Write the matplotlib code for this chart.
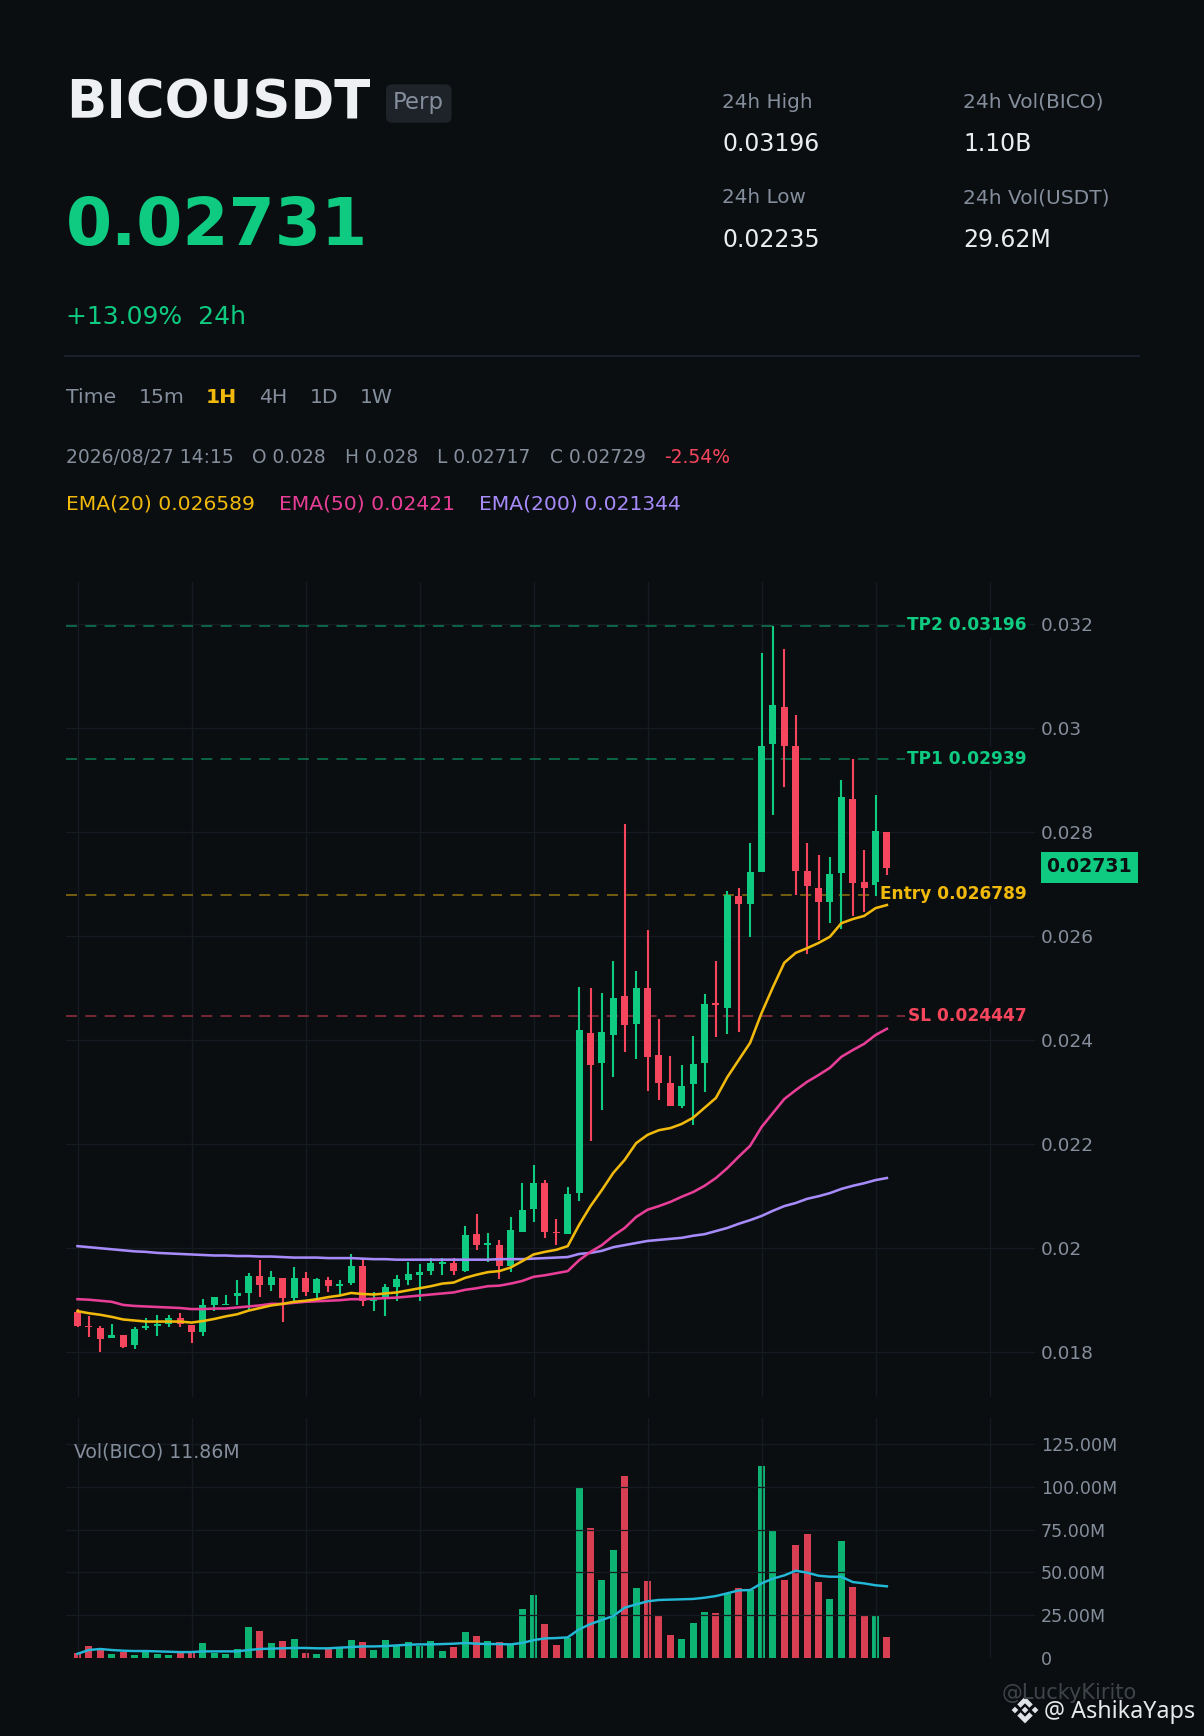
import numpy as np
import matplotlib
matplotlib.use("Agg")
import matplotlib.pyplot as plt
from matplotlib.patches import FancyBboxPatch, Polygon, Rectangle
from matplotlib.transforms import blended_transform_factory

# prices are stored in units of 0.00001
highs = [1883, 1868, 1849, 1854, 1833, 1847, 1864, 1870, 1870, 1874, 1851, 1901, 1906, 1910, 1937, 1951, 1976, 1956,
         1941, 1962, 1954, 1941, 1943, 1937, 1987, 1981, 1914, 1931, 1947, 1972, 1968, 1981, 1980, 1980, 2041, 2064,
         2028, 2014, 2060, 2124, 2160, 2130, 2056, 2117, 2501, 2499, 2490, 2551, 2815, 2532, 2611, 2440, 2369, 2351,
         2407, 2488, 2551, 2686, 2692, 2778, 3144, 3196, 3151, 3024, 2778, 2755, 2751, 2899, 2940, 2765, 2871, 2800]
lows = [1847, 1828, 1799, 1826, 1808, 1806, 1841, 1831, 1847, 1847, 1816, 1831, 1878, 1889, 1889, 1881, 1906, 1916,
        1858, 1897, 1908, 1903, 1914, 1908, 1928, 1887, 1878, 1868, 1897, 1928, 1897, 1947, 1947, 1947, 1953, 1995,
        1972, 1939, 1953, 2031, 2049, 2018, 2006, 2026, 2090, 2205, 2265, 2328, 2376, 2363, 2301, 2284, 2273, 2269,
        2236, 2299, 2405, 2411, 2415, 2598, 2722, 2832, 2886, 2678, 2565, 2592, 2624, 2613, 2638, 2646, 2676, 2717]
body_tops = [1876, 1848, 1845, 1833, 1833, 1843, 1849, 1853, 1864, 1864, 1851, 1889, 1906, 1890, 1912, 1945, 1945, 1943,
             1941, 1941, 1941, 1939, 1937, 1931, 1964, 1964, 1899, 1924, 1939, 1949, 1954, 1970, 1972, 1970, 2024, 2026,
             2010, 2006, 2035, 2072, 2124, 2124, 2031, 2103, 2419, 2413, 2415, 2480, 2484, 2499, 2499, 2371, 2317, 2311,
             2353, 2469, 2469, 2678, 2676, 2722, 2965, 3044, 3040, 2965, 2724, 2692, 2719, 2867, 2863, 2703, 2801, 2800]
body_bots = [1849, 1847, 1824, 1826, 1810, 1812, 1845, 1849, 1853, 1853, 1837, 1837, 1889, 1889, 1908, 1912, 1928, 1928,
             1904, 1903, 1914, 1912, 1926, 1926, 1933, 1897, 1897, 1904, 1924, 1937, 1947, 1956, 1968, 1956, 1956, 2005,
             2005, 1964, 1964, 2031, 2074, 2031, 2028, 2026, 2105, 2351, 2355, 2409, 2428, 2430, 2367, 2317, 2273, 2273,
             2315, 2355, 2467, 2461, 2661, 2661, 2722, 2969, 2965, 2724, 2696, 2665, 2665, 2721, 2701, 2692, 2698, 2730]
is_up = [0, 0, 0, 1, 0, 1, 1, 1, 1, 0, 0, 1, 1, 1, 1, 1, 0, 1, 0, 1, 0, 1, 0, 1, 1, 0, 1, 1, 1, 1, 1, 1, 1, 0, 1, 0,
         1, 0, 1, 1, 1, 0, 0, 1, 1, 0, 1, 1, 0, 1, 0, 0, 0, 1, 1, 1, 0, 1, 0, 1, 1, 1, 0, 0, 0, 0, 1, 1, 0, 0, 1, 0]

ema20 = [1878, 1874, 1871, 1867, 1862, 1860, 1858, 1858, 1858, 1858, 1856, 1859, 1863, 1868, 1872, 1879, 1884, 1889,
         1892, 1896, 1898, 1901, 1905, 1908, 1913, 1911, 1910, 1912, 1914, 1918, 1922, 1926, 1931, 1933, 1942, 1948,
         1953, 1955, 1962, 1974, 1987, 1992, 1996, 2003, 2044, 2080, 2111, 2144, 2169, 2201, 2217, 2226, 2230, 2238,
         2250, 2269, 2288, 2328, 2361, 2394, 2451, 2501, 2548, 2567, 2576, 2586, 2598, 2624, 2632, 2638, 2653, 2659]
ema50 = [1901, 1900, 1898, 1896, 1890, 1888, 1887, 1886, 1885, 1884, 1882, 1882, 1883, 1883, 1885, 1887, 1889, 1892,
         1892, 1894, 1896, 1897, 1898, 1899, 1901, 1901, 1902, 1903, 1904, 1906, 1908, 1910, 1912, 1914, 1919, 1922,
         1926, 1927, 1931, 1936, 1944, 1947, 1951, 1955, 1976, 1992, 2005, 2023, 2038, 2059, 2073, 2080, 2088, 2098,
         2107, 2119, 2134, 2153, 2175, 2196, 2232, 2259, 2286, 2303, 2319, 2332, 2346, 2367, 2380, 2392, 2409, 2421]
ema200 = [2003, 2001, 1999, 1997, 1995, 1993, 1992, 1990, 1989, 1988, 1987, 1986, 1985, 1985, 1984, 1984, 1983, 1983,
          1982, 1981, 1981, 1981, 1980, 1980, 1980, 1979, 1978, 1978, 1977, 1977, 1977, 1977, 1977, 1977, 1977, 1977,
          1977, 1978, 1978, 1978, 1979, 1980, 1981, 1982, 1988, 1990, 1994, 2001, 2005, 2009, 2013, 2015, 2017, 2019,
          2023, 2026, 2032, 2038, 2046, 2053, 2061, 2071, 2080, 2086, 2094, 2099, 2105, 2113, 2119, 2124, 2130, 2134]

volume = [2.7, 6.8, 5.1, 2.1, 3.5, 1.6, 3.9, 2.1, 1.6, 2.7, 2.7, 8.6, 2.7, 2.1, 5.1, 18.0, 15.6, 8.6,
          9.8, 10.9, 2.7, 2.1, 5.1, 5.7, 10.3, 9.2, 4.5, 10.3, 7.4, 9.2, 6.8, 9.8, 3.9, 6.2, 15.0, 12.7,
          9.8, 9.2, 8.0, 28.5, 36.7, 19.7, 7.4, 11.7, 99.4, 75.9, 45.5, 63.0, 106.4, 40.8, 44.9, 24.4, 13.3, 10.9,
          20.3, 26.7, 26.2, 37.3, 40.8, 39.6, 112.2, 74.8, 45.5, 66.0, 72.4, 44.3, 34.4, 68.3, 41.4, 25.0, 24.4, 11.86]
vol_ma = [2.3, 4.5, 5.1, 4.5, 4.1, 3.9, 3.9, 3.7, 3.5, 3.3, 3.3, 3.7, 3.7, 3.7, 3.7, 4.5, 5.1, 5.3,
          5.5, 5.7, 5.7, 5.5, 5.5, 5.9, 6.2, 6.6, 6.6, 6.8, 7.2, 7.6, 7.8, 7.8, 8.0, 8.2, 8.6, 8.2,
          8.0, 8.0, 7.8, 8.6, 10.3, 11.3, 11.5, 11.9, 16.6, 19.7, 22.1, 24.4, 29.3, 31.2, 33.0, 33.8, 34.0, 34.2,
          34.4, 35.1, 36.1, 37.7, 39.4, 39.6, 43.5, 46.3, 48.2, 50.9, 49.8, 48.0, 47.4, 47.4, 44.3, 43.5, 42.4, 41.8]

price_ticks = [0.018, 0.02, 0.022, 0.024, 0.026, 0.028, 0.03, 0.032]
vol_ticks = [0, 25, 50, 75, 100, 125]
vol_tick_labels = ["0", "25.00M", "50.00M", "75.00M", "100.00M", "125.00M"]
levels = [("TP2", 0.03196), ("TP1", 0.02939), ("Entry", 0.026789), ("SL", 0.024447)]
last_price = 0.02731

BG = "#0b0e11"
GRID = "#161b22"
GREY = "#848e9c"
WHITE = "#eaecef"
GREEN = "#0ecb81"
RED = "#f6465d"
YELLOW = "#f0b90b"
PINK = "#e83e97"
PURPLE = "#a78bfa"
CYAN = "#22b8d6"
level_colors = {"TP2": GREEN, "TP1": GREEN, "Entry": YELLOW, "SL": RED}

W, H = 1204, 1736
fig = plt.figure(figsize=(W / 100, H / 100), dpi=100, facecolor=BG)


def T(x, y, s, size, color=GREY, **kw):
    return fig.text(x / W, 1 - y / H, s, fontsize=size, color=color, va="baseline", **kw)


# header
T(66, 118.3, "BICOUSDT", 38, "#eef0f3", fontweight="bold")
fig.patches.append(FancyBboxPatch((386 / W, 1 - 122.7 / H), 65.6 / W, 38.4 / H, transform=fig.transFigure,
                                  boxstyle="round,pad=0,rounding_size=0.005", mutation_aspect=W / H,
                                  fc="#1e2329", ec="none"))
T(393, 109.3, "Perp", 16.4)
T(66, 245, "0.02731", 47.8, GREEN, fontweight="bold")
T(66, 324.3, "+13.09%  24h", 18, GREEN)

T(722, 107.7, "24h High", 14.4)
T(722, 151, "0.03196", 17, WHITE)
T(722, 203, "24h Low", 14.4)
T(722, 246.7, "0.02235", 17, WHITE)
T(963, 107.7, "24h Vol(BICO)", 14.5)
T(963, 151, "1.10B", 17, WHITE)
T(963, 203, "24h Vol(USDT)", 14.5)
T(963, 246.7, "29.62M", 17, WHITE)

fig.add_artist(plt.Line2D([65 / W, 1139 / W], [1 - 355.7 / H] * 2, color="#1e2633", lw=1.2))

T(66, 403.3, "Time", 14.7)
T(138.5, 403.3, "15m", 14.7)
T(206, 403.3, "1H", 14.7, YELLOW, fontweight="bold")
T(259, 403.3, "4H", 14.7)
T(310, 403.3, "1D", 14.7)
T(359.5, 403.3, "1W", 14.7)

T(66, 462.7, "2026/08/27 14:15", 13.5)
T(252, 462.7, "O 0.028", 13.4)
T(345, 462.7, "H 0.028", 13.4)
T(437, 462.7, "L 0.02717", 13.4)
T(550, 462.7, "C 0.02729", 13.4)
T(664.5, 462.7, "-2.54%", 13.5, RED)

T(66, 510, "EMA(20) 0.026589", 14.6, YELLOW)
T(279, 510, "EMA(50) 0.02421", 14.6, PINK)
T(479, 510, "EMA(200) 0.021344", 14.6, PURPLE)

# axes
ax = fig.add_axes([66 / W, 1 - 1397 / H, 969 / W, 815 / H], facecolor=BG)
vax = fig.add_axes([66 / W, 1 - 1657.7 / H, 969 / W, 240 / H], facecolor=BG)

idx = np.arange(len(highs))
colors = [GREEN if u else RED for u in is_up]
tops = np.array(body_tops) / 1e5
bots = np.array(body_bots) / 1e5

for a in (ax, vax):
    a.set_xlim(-1.009, 83.99)
    for s in a.spines.values():
        s.set_visible(False)
    a.set_xticks(np.arange(0, 90, 10) + 0.07)
    a.tick_params(axis="x", length=0, labelbottom=False)
    a.tick_params(axis="y", length=0, labelleft=False, labelright=True, right=False, left=False)
    a.grid(True, color=GRID, lw=0.9)

ax.set_axisbelow(True)
ax.set_ylim(0.017129, 0.032802)
ax.set_yticks(price_ticks)
ax.set_yticklabels([f"{p:g}" for p in price_ticks], color=GREY, fontsize=13.3)
ax.tick_params(axis="y", pad=4.5)

# candles
wicks = ax.vlines(idx, np.array(lows) / 1e5, np.array(highs) / 1e5, colors=colors, lw=1.5, zorder=3)
wicks.set_snap(True)
ax.bar(idx, np.maximum(tops - bots, 3e-5), bottom=bots, width=0.62, color=colors, lw=0, zorder=3)

# EMA lines
ax.plot(idx, np.array(ema200) / 1e5, color=PURPLE, lw=1.85, zorder=4)
ax.plot(idx, np.array(ema50) / 1e5, color=PINK, lw=1.85, zorder=4)
ax.plot(idx, np.array(ema20) / 1e5, color=YELLOW, lw=1.85, zorder=4)

# trade levels, labels sit under the EMA lines
trans = blended_transform_factory(ax.transAxes, ax.transData)
for name, level in levels:
    c = level_colors[name]
    ax.axhline(level, xmax=0.995, color=c, alpha=0.5, lw=1.3, ls=(0, (6.1, 4.6)), dash_capstyle="butt", zorder=2)
    ax.annotate(f"{name} {level:g}", xy=((1026.7 - 66) / 969, level), xycoords=trans, xytext=(0, -3.0),
                textcoords="offset points", ha="right", va="baseline", fontsize=12.25, fontweight="bold", color=c,
                bbox=dict(boxstyle="square,pad=0.15", fc=BG, ec="none"), zorder=3.5)

# last price tag
ax.add_patch(Rectangle(((1041 - 66) / 969, last_price - 15.35 / 52000), 96.7 / 969, 30.7 / 52000, transform=trans,
                       fc=GREEN, ec="none", clip_on=False, zorder=6))
T(1046, 872.3, f"{last_price:g}", 13.6, BG, fontweight="bold")

# volume panel
vax.set_axisbelow(False)
vax.set_ylim(0, 140.5)
vax.set_yticks(vol_ticks)
vax.set_yticklabels(vol_tick_labels, color=GREY, fontsize=12.6)
vax.yaxis.get_gridlines()[0].set_visible(False)
vax.tick_params(axis="y", pad=4.3)
vax.bar(idx, volume, width=0.62, color=colors, alpha=0.88, lw=0, zorder=1)
vax.plot(idx, vol_ma, color=CYAN, lw=1.75, zorder=4)
T(74.3, 1457.3, "Vol(BICO) 11.86M", 13.6)

# watermark
T(1001.5, 1699, "@LuckyKirito", 15, "#3f444b")
logo_x, logo_y, r = 1025, 1710, 13.4
logo_shapes = [
    [(0, 0.25), (0.25, 0), (0, -0.25), (-0.25, 0)],
    [(-0.75, 0.25), (-0.5, 0), (-0.75, -0.25), (-1, 0)],
    [(0.75, 0.25), (1, 0), (0.75, -0.25), (0.5, 0)],
    [(0, 1), (0.58, 0.42), (0.33, 0.17), (0, 0.5), (-0.33, 0.17), (-0.58, 0.42)],
    [(0, -1), (0.58, -0.42), (0.33, -0.17), (0, -0.5), (-0.33, -0.17), (-0.58, -0.42)],
]
for shape in logo_shapes:
    pts = [((logo_x + r * a) / W, 1 - (logo_y - r * b) / H) for a, b in shape]
    fig.patches.append(Polygon(pts, closed=True, transform=fig.transFigure, fc="#dfe2e6", ec="none"))
T(1044, 1717.7, "@ AshikaYaps", 16.8, "#e6e8ea", family="Noto Sans")

fig.savefig("out.png", dpi=100, facecolor=BG)
